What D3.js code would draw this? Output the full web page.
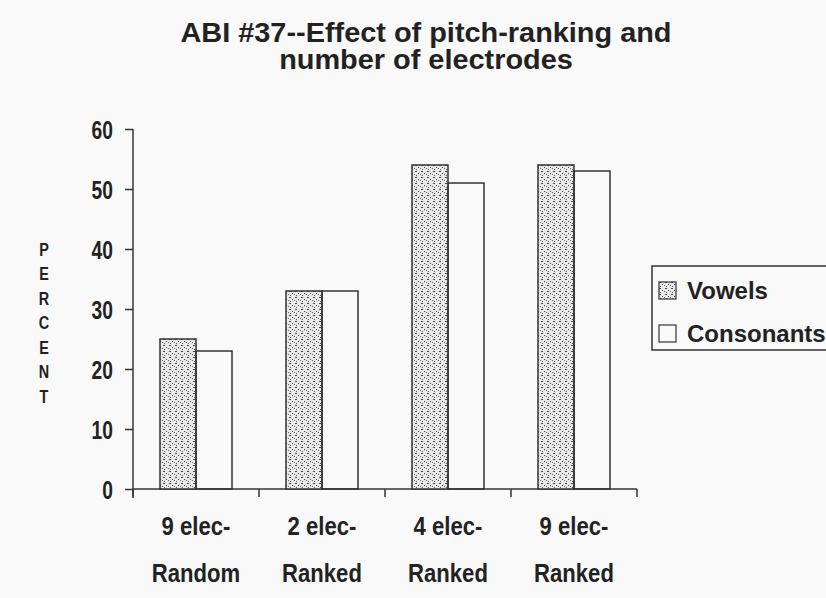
<!DOCTYPE html>
<meta charset="utf-8">
<script src="https://d3js.org/d3.v7.min.js"></script>
<style>
  body { margin: 0; background: #f9f9f9; }
  svg { display: block; }
  .narrow { font-family: "Liberation Sans Narrow", "Arial Narrow", "Liberation Sans", sans-serif; font-weight: bold; fill: #222; }
</style>
<div id="chart"></div>
<script>

// data
var categories = ["9 elec-|Random", "2 elec-|Ranked", "4 elec-|Ranked", "9 elec-|Ranked"];
var seriesNames = ["Vowels", "Consonants"];
var vowels = [25, 33, 54, 54];
var consonants = [23, 33, 51, 53];
var yTicks = [0, 10, 20, 30, 40, 50, 60];

var W = 826, H = 598;
var margin = {top: 129, left: 133, right: 189, bottom: 109};
var width = W - margin.left - margin.right,
    height = H - margin.top - margin.bottom;

var svg = d3.select("#chart").append("svg")
    .attr("width", W)
    .attr("height", H);

// stipple pattern for the vowel bars
var defs = svg.append("defs");
var pat = defs.append("pattern")
    .attr("id", "dots")
    .attr("patternUnits", "userSpaceOnUse")
    .attr("width", 6).attr("height", 6);
pat.append("rect").attr("width", 6).attr("height", 6).attr("fill", "#e9e9e9");
pat.append("rect").attr("x", 0).attr("y", 0).attr("width", 2).attr("height", 1).attr("fill", "#444");
pat.append("rect").attr("x", 3).attr("y", 2).attr("width", 1).attr("height", 1).attr("fill", "#444");
pat.append("rect").attr("x", 1).attr("y", 4).attr("width", 1).attr("height", 1).attr("fill", "#555");
pat.append("rect").attr("x", 5).attr("y", 3).attr("width", 1).attr("height", 1).attr("fill", "#666");

var g = svg.append("g")
    .attr("transform", "translate(" + margin.left + "," + margin.top + ")");

var x0 = d3.scaleBand()
    .domain(categories)
    .range([0, width])
    .padding(0);

var x1 = d3.scaleBand()
    .domain(seriesNames)
    .range([0, x0.bandwidth()])
    .paddingInner(0)
    .paddingOuter(0.75);

var y = d3.scaleLinear()
    .domain([0, 60])
    .range([height, 0]);

// title
var title = svg.append("text")
    .attr("text-anchor", "middle")
    .style("font-family", "Liberation Sans, Arial, sans-serif")
    .style("font-weight", "bold")
    .style("font-size", "27px")
    .style("fill", "#222")
    .attr("transform", "translate(426,0) scale(1.07,1)");
title.append("tspan").attr("x", 0).attr("y", 42).text("ABI #37--Effect of pitch-ranking and");
title.append("tspan").attr("x", 0).attr("y", 69).text("number of electrodes");

// y axis
var yAxis = g.append("g")
    .call(d3.axisLeft(y).tickValues(yTicks).tickSize(8).tickPadding(12));
yAxis.select(".domain").attr("d", "M0,0V" + (height + 9)).attr("stroke", "#333").attr("stroke-width", 1.5);
yAxis.selectAll(".tick line").attr("stroke", "#333").attr("stroke-width", 1.5);
yAxis.selectAll(".tick text")
    .attr("class", "narrow")
    .style("font-size", "26px")
    .attr("x", -20 / 0.74)
    .attr("transform", "scale(0.74,1)")
    .attr("dy", "0.36em");

// x axis
var xAxis = g.append("g")
    .attr("transform", "translate(0," + height + ")");
xAxis.append("line")
    .attr("x1", 0).attr("x2", width)
    .attr("stroke", "#333").attr("stroke-width", 1.5);
xAxis.selectAll(".sep")
    .data(categories.map(function(c) { return x0(c); }).concat([width]))
    .enter().append("line")
    .attr("x1", function(d) { return d; })
    .attr("x2", function(d) { return d; })
    .attr("y1", 0).attr("y2", 8)
    .attr("stroke", "#333").attr("stroke-width", 1.5);

var xl = xAxis.selectAll(".xlab")
    .data(categories)
    .enter().append("text")
    .attr("class", "narrow")
    .attr("text-anchor", "middle")
    .style("font-size", "26px")
    .attr("transform", function(d) { return "translate(" + (x0(d) + x0.bandwidth() / 2) + ",0) scale(0.85,1)"; });
xl.append("tspan").attr("x", 0).attr("y", 46).text(function(d) { return d.split("|")[0]; });
xl.append("tspan").attr("x", 0).attr("y", 93).text(function(d) { return d.split("|")[1]; });

// y label, stacked letters
g.append("text")
    .style("font-family", "Liberation Sans, Arial, sans-serif")
    .style("font-weight", "bold")
    .style("font-size", "18px")
    .style("fill", "#222")
    .attr("text-anchor", "middle")
    .attr("transform", "translate(" + (44 - margin.left) + ",0) scale(0.8,1)")
    .selectAll("tspan")
    .data("PERCENT".split(""))
    .enter().append("tspan")
    .attr("x", 0)
    .attr("y", function(d, i) { return 256 - margin.top + i * 24.5; })
    .text(function(d) { return d; });

// bars
var groups = g.selectAll(".grp")
    .data(categories)
    .enter().append("g")
    .attr("transform", function(d) { return "translate(" + x0(d) + ",0)"; });

groups.append("rect")
    .attr("x", x1("Vowels"))
    .attr("width", x1.bandwidth())
    .attr("y", function(d, i) { return y(vowels[i]); })
    .attr("height", function(d, i) { return height - y(vowels[i]); })
    .attr("fill", "url(#dots)")
    .attr("stroke", "#333").attr("stroke-width", 1.5);

groups.append("rect")
    .attr("x", x1("Consonants"))
    .attr("width", x1.bandwidth())
    .attr("y", function(d, i) { return y(consonants[i]); })
    .attr("height", function(d, i) { return height - y(consonants[i]); })
    .attr("fill", "none")
    .attr("stroke", "#333").attr("stroke-width", 1.5);

// legend
var leg = svg.append("g").attr("transform", "translate(652,266)");
leg.append("rect")
    .attr("width", 190).attr("height", 84)
    .attr("fill", "none")
    .attr("stroke", "#333").attr("stroke-width", 1.5);
var items = leg.selectAll(".item")
    .data(seriesNames)
    .enter().append("g")
    .attr("transform", function(d, i) { return "translate(7," + (16 + i * 43) + ")"; });
items.append("rect")
    .attr("width", 17).attr("height", 17)
    .attr("fill", function(d) { return d === "Vowels" ? "url(#dots)" : "none"; })
    .attr("stroke", "#333").attr("stroke-width", 1.2);
items.append("text")
    .attr("class", "narrow")
    .attr("x", 28).attr("y", 17)
    .style("font-size", "24px")
    .text(function(d) { return d; });

</script>
